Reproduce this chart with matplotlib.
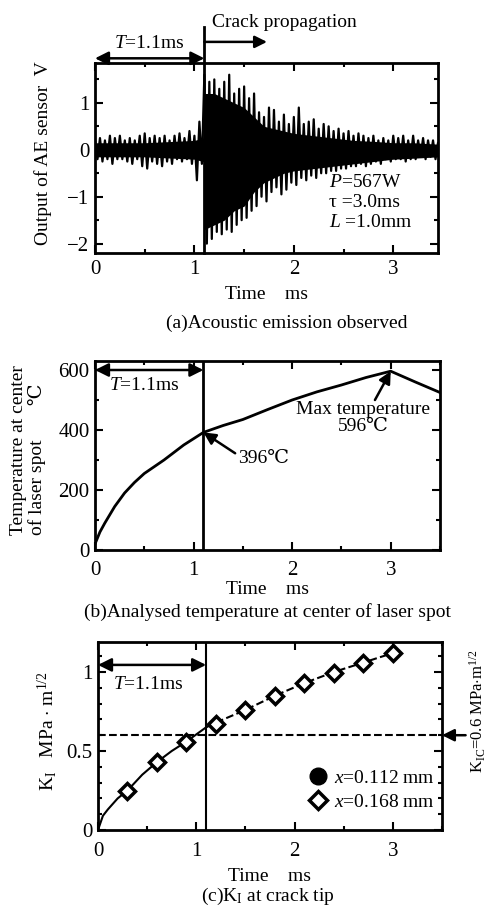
import numpy as np
import matplotlib
matplotlib.use("Agg")
import matplotlib.pyplot as plt
from matplotlib.ticker import MultipleLocator, FuncFormatter

# serif text like the printed paper, with fallback for the degree sign
plt.rcParams['font.family'] = ['Liberation Serif', 'DejaVu Serif', 'Noto Sans CJK JP']
plt.rcParams['mathtext.fontset'] = 'custom'
plt.rcParams['mathtext.rm'] = 'Liberation Serif'
plt.rcParams['mathtext.it'] = 'Liberation Serif:italic'
plt.rcParams['font.size'] = 14

# (a) AE sensor output: upper / lower peaks read every 0.05 ms
ae_t = np.round(np.arange(0, 3.46, 0.05), 2)
ae_hi = [0.2, 0.25, 0.2, 0.3, 0.25, 0.3, 0.2, 0.25, 0.2, 0.3,
         0.35, 0.25, 0.3, 0.25, 0.3, 0.2, 0.3, 0.35, 0.25, 0.4,
         0.3, 0.6, 1.6, 1.45, 1.5, 1.3, 1.45, 1.6, 1.2, 1.3,
         1.35, 1.1, 1.2, 0.8, 0.7, 0.9, 0.85, 0.6, 0.75, 0.55,
         0.7, 0.9, 0.55, 0.6, 0.65, 0.45, 0.55, 0.5, 0.4, 0.45,
         0.35, 0.4, 0.3, 0.35, 0.3, 0.25, 0.3, 0.2, 0.25, 0.2,
         0.3, 0.25, 0.3, 0.2, 0.3, 0.2, 0.25, 0.2, 0.2, 0.15]
ae_lo = [-0.2, -0.25, -0.2, -0.3, -0.2, -0.2, -0.25, -0.3, -0.2, -0.35,
         -0.4, -0.25, -0.3, -0.35, -0.25, -0.3, -0.2, -0.25, -0.2, -0.3,
         -0.65, -0.3, -2.0, -1.9, -1.75, -1.8, -1.7, -1.75, -1.6, -1.5,
         -1.45, -1.3, -1.2, -1.0, -1.1, -0.9, -0.8, -0.95, -0.85, -0.7,
         -0.75, -0.6, -0.65, -0.55, -0.6, -0.5, -0.5, -0.45, -0.45, -0.4,
         -0.4, -0.35, -0.35, -0.3, -0.35, -0.3, -0.25, -0.3, -0.2, -0.25,
         -0.2, -0.2, -0.25, -0.2, -0.2, -0.15, -0.2, -0.15, -0.2, -0.15]
# solid black core of the waveform
core_t = [0, 0.5, 1.0, 1.09, 1.1, 1.2, 1.3, 1.4, 1.5, 1.6, 1.7, 1.8,
          1.9, 2.0, 2.2, 2.4, 2.6, 2.8, 3.0, 3.2, 3.45]
core_hi = [0.15, 0.15, 0.2, 0.25, 1.2, 1.2, 1.1, 1.0, 0.9, 0.7, 0.5, 0.45,
           0.4, 0.35, 0.3, 0.25, 0.2, 0.18, 0.15, 0.15, 0.12]
core_lo = [-0.15, -0.15, -0.2, -0.25, -1.7, -1.6, -1.5, -1.3, -1.2, -0.9, -0.7, -0.6,
           -0.5, -0.45, -0.4, -0.35, -0.3, -0.25, -0.2, -0.18, -0.15]

# (b) temperature at center of laser spot
temp_t = [0, 0.05, 0.1, 0.2, 0.3, 0.4, 0.5, 0.7, 0.9, 1.1,
          1.3, 1.5, 1.75, 2.0, 2.25, 2.5, 2.75, 3.0, 3.25, 3.5]
temp_c = [20, 60, 90, 145, 190, 225, 255, 300, 350, 392,
          415, 435, 468, 500, 527, 550, 575, 596, 560, 525]

# (c) stress intensity factor K_I
k_line_t = [0, 0.05, 0.1, 0.2, 0.3, 0.45, 0.6, 0.75, 0.9, 1.1]
k_line = [0, 0.09, 0.13, 0.2, 0.25, 0.35, 0.43, 0.5, 0.56, 0.65]
k_dash_t = [1.1, 1.2, 1.5, 1.8, 2.1, 2.4, 2.7, 3.0]
k_dash = [0.65, 0.68, 0.76, 0.85, 0.93, 1.0, 1.06, 1.12]
k_pts_t = [0.3, 0.6, 0.9, 1.2, 1.5, 1.8, 2.1, 2.4, 2.7, 3.0]
k_x112 = [0.25, 0.43, 0.56, 0.67, 0.76, 0.85, 0.93, 0.995, 1.06, 1.12]
k_x168 = [0.25, 0.43, 0.56, 0.67, 0.76, 0.85, 0.93, 0.995, 1.06, 1.12]
k_ic = 0.6
t_crack = 1.1

W, H = 489, 908
fig = plt.figure(figsize=(W / 100, H / 100), dpi=100)


def px_rect(left, top, right, bottom):
    # axes rectangle from pixel edges
    return [left / W, 1 - bottom / H, (right - left) / W, (bottom - top) / H]


def style_axes(ax, xlim, ylim, ymajor, yminor, xpad, labelpad):
    ax.set_xlim(*xlim)
    ax.set_ylim(*ylim)
    ax.xaxis.set_major_locator(MultipleLocator(1))
    ax.xaxis.set_minor_locator(MultipleLocator(0.5))
    ax.yaxis.set_major_locator(MultipleLocator(ymajor))
    ax.yaxis.set_minor_locator(MultipleLocator(yminor))
    fmt = FuncFormatter(lambda v, _: f"{v:g}".replace('-', '\u2212'))
    ax.xaxis.set_major_formatter(fmt)
    ax.yaxis.set_major_formatter(fmt)
    ax.tick_params(which='both', direction='in', top=True, right=True,
                   width=1.5, labelsize=15)
    ax.tick_params(which='major', length=6)
    ax.tick_params(which='minor', length=3)
    ax.tick_params(axis='x', pad=xpad)
    ax.tick_params(axis='y', pad=4)
    for s in ax.spines.values():
        s.set_linewidth(2)
    ax.set_xlabel('Time    ms', fontsize=14, labelpad=labelpad)


arrow2 = dict(arrowstyle='<|-|>', mutation_scale=20, lw=1.8, color='k',
              shrinkA=0, shrinkB=0)
arrow1 = dict(arrowstyle='-|>', mutation_scale=18, lw=1.8, color='k',
              shrinkA=0, shrinkB=0)

# ---------------- (a) acoustic emission ----------------
ax1 = fig.add_axes(px_rect(95, 63, 438, 253))
style_axes(ax1, (0, 3.45), (-2.2, 1.85), 1, 0.5, 5, 5)
ax1.fill_between(core_t, core_hi, core_lo, color='k', lw=0)
zz_t = np.column_stack([ae_t, ae_t + 0.025]).ravel()
zz_v = np.column_stack([ae_hi, ae_lo]).ravel()
ax1.plot(zz_t, zz_v, color='k', lw=1.6)
ax1.plot([t_crack, t_crack], [-2.2, 2.62], color='k', lw=2, clip_on=False)
ax1.annotate('', xy=(0, 1.95), xytext=(t_crack, 1.95), arrowprops=arrow2,
             annotation_clip=False)
ax1.text(0.55, 2.27, '$T$=1.1ms', ha='center', va='center')
ax1.annotate('', xy=(1.73, 2.3), xytext=(t_crack, 2.3), arrowprops=arrow1,
             annotation_clip=False)
ax1.text(1.18, 2.72, 'Crack propagation', ha='left', va='center')
ax1.text(2.35, -0.7, '$P$=567W', ha='left', va='center')
ax1.text(2.35, -1.13, '\u03c4 =3.0ms', ha='left', va='center')
ax1.text(2.35, -1.55, '$L$ =1.0mm', ha='left', va='center')
fig.text(43 / W, 1 - 153 / H, 'Output of AE sensor  V', rotation=90,
         ha='center', va='center')
fig.text(287 / W, 1 - 323 / H, '(a)Acoustic emission observed',
         ha='center', va='center')

# ---------------- (b) temperature ----------------
ax2 = fig.add_axes(px_rect(95, 361, 440, 550))
style_axes(ax2, (0, 3.5), (0, 630), 200, 100, 8, 1)
ax2.plot(temp_t, temp_c, color='k', lw=2)
ax2.axvline(t_crack, color='k', lw=2)
ax2.annotate('', xy=(0, 600), xytext=(t_crack, 600), arrowprops=arrow2)
ax2.text(0.5, 550, '$T$=1.1ms', ha='center', va='center')
ax2.annotate('396\u2103', xy=(t_crack, 392), xytext=(1.45, 305),
             ha='left', va='center',
             arrowprops=dict(arrow1, relpos=(0, 0.7)))
ax2.text(2.72, 440, 'Max temperature\n596\u2103', ha='center', va='center',
         multialignment='center', linespacing=1.0)
ax2.annotate('', xy=(3.0, 596), xytext=(2.84, 500), arrowprops=arrow1)
fig.text(28 / W, 1 - 535 / H, 'Temperature at center\nof laser spot       \u2103',
         rotation=90, ha='center', va='bottom', multialignment='left',
         linespacing=1.0)
fig.text(268 / W, 1 - 612 / H, '(b)Analysed temperature at center of laser spot',
         ha='center', va='center')

# ---------------- (c) K_I at crack tip ----------------
ax3 = fig.add_axes(px_rect(98, 642, 442, 830))
style_axes(ax3, (0, 3.5), (0, 1.19), 0.5, 0.1, 9, 5)
ax3.plot(k_line_t, k_line, color='k', lw=1.5)
ax3.plot(k_dash_t, k_dash, color='k', lw=1.5, ls='--')
ax3.axhline(k_ic, color='k', lw=1.5, ls='--')
ax3.axvline(t_crack, color='k', lw=1.5)
ax3.plot(k_pts_t, k_x112, 'o', ms=5, color='k', label='$x$=0.112 mm')
ax3.plot(k_pts_t, k_x168, 'D', ms=8, mfc='white', mec='k', mew=2.5,
         label='$x$=0.168 mm')
leg_handles = [
    plt.Line2D([], [], marker='o', ls='', ms=12, color='k'),
    plt.Line2D([], [], marker='D', ls='', ms=9, mfc='white', mec='k', mew=2.5),
]
ax3.legend(leg_handles, ['$x$=0.112 mm', '$x$=0.168 mm'], loc='lower right',
           bbox_to_anchor=(1.0, 0.06), frameon=False, handlelength=1.0,
           handletextpad=0.3, labelspacing=0.35, borderaxespad=0, fontsize=14)
ax3.annotate('', xy=(0, 1.045), xytext=(t_crack, 1.045), arrowprops=arrow2)
ax3.text(0.51, 0.92, '$T$=1.1ms', ha='center', va='center')
ax3.annotate('', xy=(3.5, k_ic), xytext=(3.74, k_ic), arrowprops=arrow1,
             annotation_clip=False)
fig.text(468 / W, 1 - 711 / H, r'K$_\mathrm{IC}$=0.6 MPa$\cdot$m$^{1/2}$',
         rotation=90, ha='left', va='center', fontsize=12)
fig.text(47 / W, 1 - 731 / H, r'K$_\mathrm{I}$   MPa $\cdot$ m$^{1/2}$',
         rotation=90, ha='center', va='center')
fig.text(268 / W, 1 - 901 / H, r'(c)K$_\mathrm{I}$ at crack tip',
         ha='center', va='baseline')

fig.savefig('out.png', dpi=100)
